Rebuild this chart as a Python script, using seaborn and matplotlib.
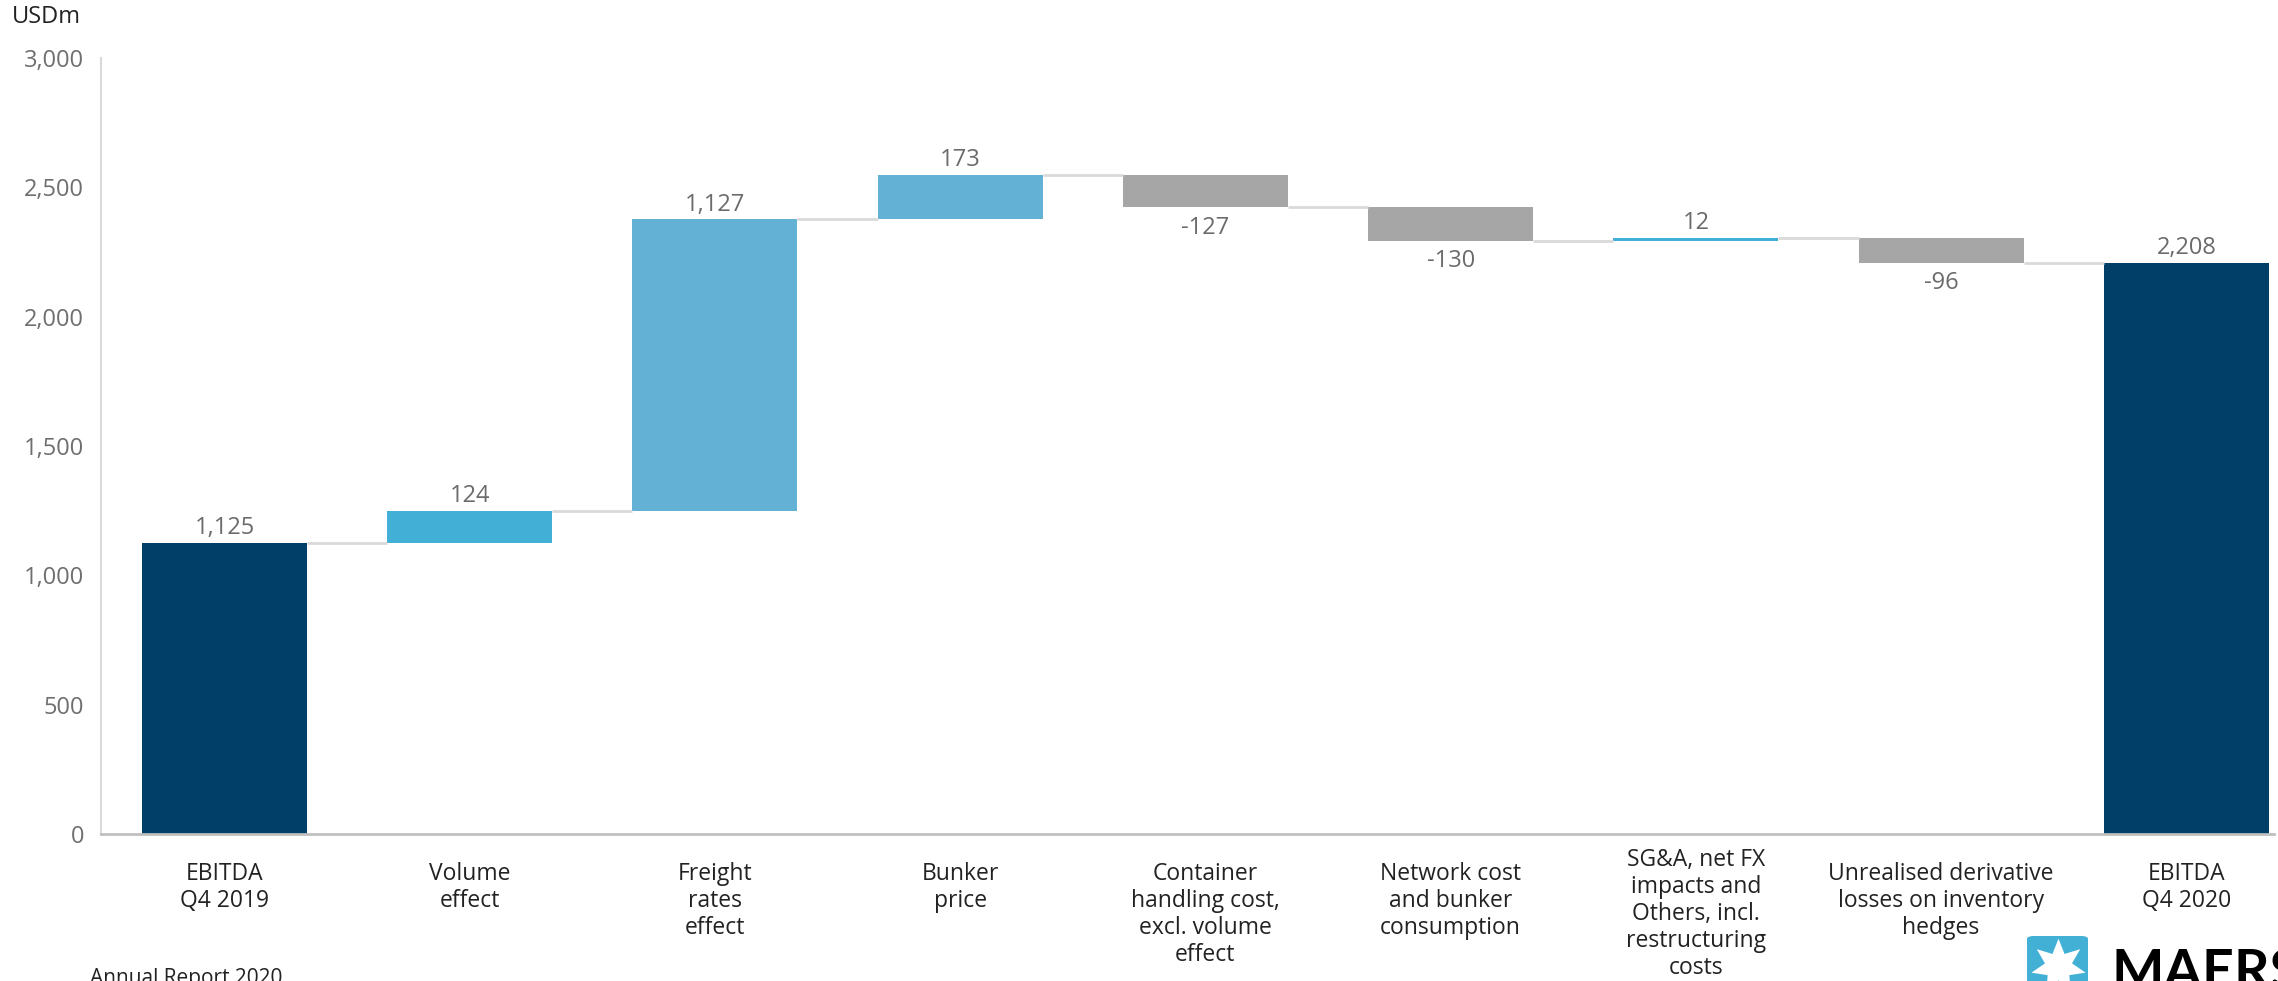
import numpy as np
import pandas as pd
import matplotlib
matplotlib.use("Agg")
import matplotlib.pyplot as plt
import seaborn as sns
from matplotlib.patches import FancyBboxPatch
from matplotlib.lines import Line2D

# ---- data ----
categories = [
    "EBITDA\nQ4 2019",
    "Volume\neffect",
    "Freight\nrates\neffect",
    "Bunker\nprice",
    "Container\nhandling cost,\nexcl. volume\neffect",
    "Network cost\nand bunker\nconsumption",
    "SG&A, net FX\nimpacts and\nOthers, incl.\nrestructuring\ncosts",
    "Unrealised derivative\nlosses on inventory\nhedges",
    "EBITDA\nQ4 2020",
]
values = [1125, 124, 1127, 173, -127, -130, 12, -96, 2208]
kinds = ["total", "delta", "delta", "delta", "delta", "delta", "delta", "delta", "total"]
value_labels = ["1,125", "124", "1,127", "173", "-127", "-130", "12", "-96", "2,208"]
y_ticks = [0, 500, 1000, 1500, 2000, 2500, 3000]

colors = ["#013F69", "#42AFD6", "#63B2D6", "#63B2D6", "#A6A6A6",
          "#A6A6A6", "#42AFD6", "#A6A6A6", "#013F69"]

# ---- waterfall geometry from values ----
bottoms, heights, levels = [], [], []
running = 0
for v, k in zip(values, kinds):
    if k == "total":
        bottoms.append(0)
        heights.append(v)
        running = v
    else:
        new = running + v
        bottoms.append(min(running, new))
        heights.append(abs(v))
        running = new
    levels.append(running)

df = pd.DataFrame({"cat": categories, "height": heights})

sns.set_theme(style="white")
plt.rcParams["font.family"] = ["Open Sans", "DejaVu Sans"]

fig = plt.figure(figsize=(22.78, 9.81), dpi=100)
ax = fig.add_axes([0.0443, 0.1498, 0.9539, 0.7911])

BW = 0.673
sns.barplot(data=df, x="cat", y="height", order=categories, ax=ax,
            bottom=np.array(bottoms, dtype=float), width=BW,
            color=colors[0], linewidth=0, saturation=1)
for p, c in zip(ax.patches, colors):
    p.set_facecolor(c)
    p.set_edgecolor(c)

# connectors
for i in range(len(values) - 1):
    ax.hlines(levels[i], i + BW / 2, i + 1 - BW / 2, color="#D9D9D9", lw=2, zorder=1)

# value labels
for i, (v, lab) in enumerate(zip(values, value_labels)):
    top = bottoms[i] + heights[i]
    if v >= 0:
        ax.annotate(lab, (i, top), xytext=(0, 2), textcoords="offset points",
                    ha="center", va="bottom", fontsize=17, color="#6B6B6B")
    else:
        ax.annotate(lab, (i, bottoms[i]), xytext=(0, -6), textcoords="offset points",
                    ha="center", va="top", fontsize=17, color="#6B6B6B")

ax.set_xlim(-0.504, 8.357)
ax.set_ylim(0, 3000)
ax.set_yticks(y_ticks)
ax.set_yticklabels([f"{t:,}" for t in y_ticks])
ax.tick_params(axis="y", length=0, pad=12, labelsize=17, labelcolor="#6F6F6F")
ax.set_xticks(range(len(categories)))
ax.set_xticklabels([])
ax.tick_params(axis="x", length=0)
ax.set_xlabel("")
ax.set_ylabel("")

# category labels
for i, lab in enumerate(categories):
    dy = -10 if lab.startswith("SG&A") else -20
    ax.annotate(lab, (i, 0), xycoords=("data", "axes fraction"),
                xytext=(0, dy), textcoords="offset points",
                ha="center", va="top", fontsize=16.5, color="#222222",
                linespacing=1.17)

for s in ["top", "right"]:
    ax.spines[s].set_visible(False)
ax.spines["left"].set_color("#D9D9D9")
ax.spines["left"].set_linewidth(1.5)
ax.spines["bottom"].set_color("#BFBFBF")
ax.spines["bottom"].set_linewidth(2)

W, H = 2278, 981
fig.text(12 / W, 1 - 17 / H, "USDm", ha="left", va="center", fontsize=17, color="#222222")
fig.text(90 / W, 1 - 968 / H, "Annual Report 2020", ha="left", va="top", fontsize=15, color="#222222")

# Maersk logo
box = FancyBboxPatch((2027 / W, 1 - 997 / H), 61 / W, 61 / H,
                     boxstyle="round,pad=0,rounding_size=0.003",
                     transform=fig.transFigure, facecolor="#42B0D5", edgecolor="none")
fig.add_artist(box)
star = Line2D([2057.5 / W], [1 - 966 / H], marker=(7, 1, 0), markersize=40,
              color="white", markeredgewidth=0, transform=fig.transFigure)
fig.add_artist(star)
fig.text(2112 / W, 1 - 948 / H, "MAERSK", ha="left", va="top", fontsize=40,
         fontweight="bold", color="#000000", family=["Lato", "DejaVu Sans"])

fig.savefig("out.png", dpi=100)
